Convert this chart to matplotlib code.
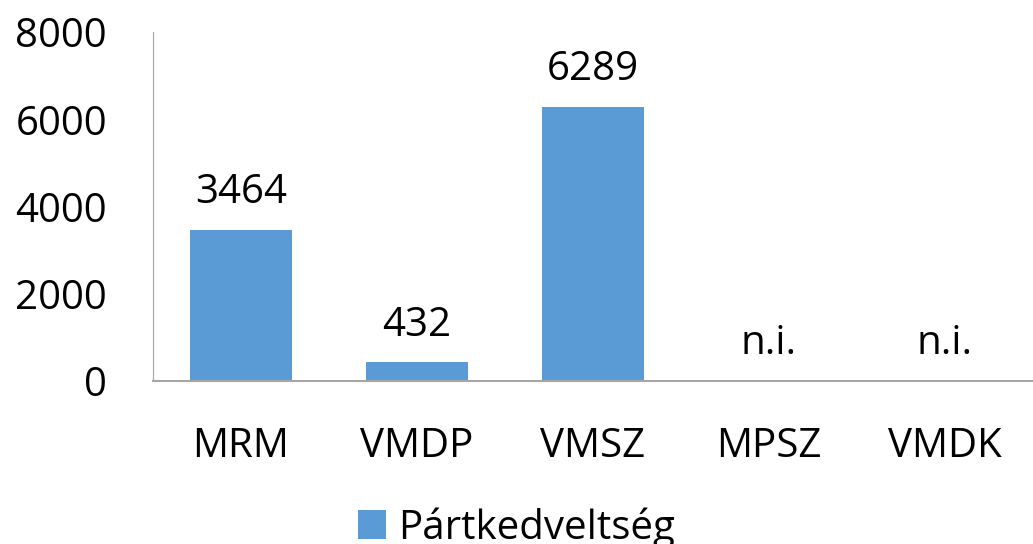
import numpy as np
from matplotlib import pyplot as plt

# Party preference data
parties = ["MRM", "VMDP", "VMSZ", "MPSZ", "VMDK"]
votes = [3464, 432, 6289, None, None]
series_name = "Pártkedveltség"

plt.rcParams['font.family'] = ['Open Sans', 'DejaVu Sans']

fig = plt.figure(figsize=(10.33, 5.44), dpi=100)
ax = fig.add_axes([0.148, 0.2996, 0.852, 0.6415])

x = np.arange(len(parties))
heights = [v if v is not None else 0 for v in votes]
bars = ax.bar(x, heights, width=0.575, color="#5B9BD5", label=series_name)

# value labels, "n.i." where no data
for xi, v in zip(x, votes):
    txt = str(v) if v is not None else "n.i."
    ax.annotate(txt, (xi, v if v is not None else 0), xytext=(0, 12),
                textcoords="offset points", ha="center", va="bottom", fontsize=29)

ax.set_xlim(-0.5, len(parties) - 0.5)
ax.set_ylim(0, 8000)
ax.set_yticks([0, 2000, 4000, 6000, 8000])
ax.set_xticks(x)
ax.set_xticklabels(parties)
ax.tick_params(axis="both", length=0, labelsize=29)
ax.tick_params(axis="y", pad=33)
ax.tick_params(axis="x", pad=33)

for s in ["top", "right"]:
    ax.spines[s].set_visible(False)
ax.spines["left"].set_color("#a6a6a6")
ax.spines["bottom"].set_color("#a6a6a6")
ax.spines["bottom"].set_linewidth(1.5)

fig.legend(loc="lower center", bbox_to_anchor=(0.5, -0.075), frameon=False,
           fontsize=29, handlelength=0.7, handleheight=0.7, handletextpad=0.3)

fig.savefig("out.png", dpi=100)
